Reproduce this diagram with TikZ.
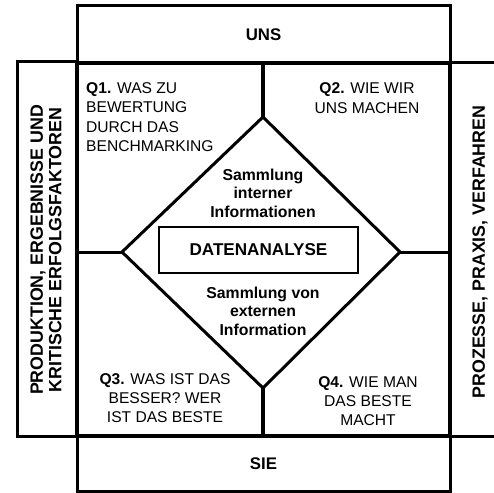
\documentclass[tikz,border=0pt]{standalone}
\usepackage{fontspec}
\setmainfont{Liberation Sans}
\usepackage{tikz}
\usetikzlibrary{positioning}

\tikzset{
  frame/.style={draw, line width=3pt, inner sep=0pt},
  heading/.style={font=\fontsize{16.8}{18}\selectfont\bfseries, align=center, inner sep=0pt},
  side/.style={font=\fontsize{17.8}{18.5}\selectfont\bfseries, align=center, inner sep=0pt, rotate=90},
  question/.style={font=\fontsize{15.6}{19.3}\selectfont, inner sep=0pt},
  collect/.style={font=\fontsize{15.8}{18.6}\selectfont\bfseries, align=center, inner sep=0pt}
}

\begin{document}
\begin{tikzpicture}[x=1pt, y=-1pt, line join=miter]
    \useasboundingbox (0,0) rectangle (494,492);
    % outer boxes
    \node [frame, minimum width=373pt, minimum height=57pt] (uns) at (263.5,34.5) {};
    \node [frame, minimum width=373pt, minimum height=55pt] (sie) at (263.5,463.5) {};
    \node [frame, minimum width=60pt, minimum height=374pt] (left) at (47,249) {};
    \draw [line width=3pt] (494,63) -- (450,63) -- (450,436) -- (494,436);
    \node [frame, line width=3.5pt, minimum width=373pt, minimum height=373pt] (sq) at (263.5,249.5) {};
    % diamond
    \coordinate (dtop) at (263,117);
    \coordinate (dleft) at (122,252);
    \coordinate (dright) at (400,252);
    \coordinate (dbot) at (263,388);
    \draw [line width=3pt] (dtop) -- (dright) -- (dbot) -- (dleft) -- cycle;
    \draw [line width=3.5pt] (sq.north -| dtop) -- (dtop);
    \draw [line width=3.5pt] (dbot) -- (sq.south -| dbot);
    \draw [line width=3pt] (sq.west |- dleft) -- (dleft);
    \draw [line width=3pt] (dright) -- (sq.east |- dright);
    \node [frame, line width=2pt, minimum width=199pt, minimum height=46pt, font=\fontsize{17.1}{18}\selectfont\bfseries] (da) at (258.5,250) {DATENANALYSE};
    % texts
    \node [heading] at (uns) {UNS};
    \node [heading] at (sie) {SIE};
    \node [side] at (46,250) {PRODUKTION, ERGEBNISSE UND\\KRITISCHE ERFOLGSFAKTOREN};
    \node [side] at (480,252) {PROZESSE, PRAXIS, VERFAHREN};
    \node [question, align=left, anchor=west] (q1) at (86,117) {\textbf{Q1.} WAS ZU\\BEWERTUNG\\DURCH DAS\\BENCHMARKING};
    \node [question, align=center] (q2) at (367,98) {\textbf{Q2.} WIE WIR\\UNS MACHEN};
    \node [question, align=center] (q3) at (165,398) {\textbf{Q3.} WAS IST DAS\\BESSER? WER\\IST DAS BESTE};
    \node [question, align=center] (q4) at (368,401) {\textbf{Q4.} WIE MAN\\DAS BESTE\\MACHT};
    \node [collect] (intern) at (263,193) {Sammlung\\interner\\Informationen};
    \node [collect] (extern) at (263,311) {Sammlung von\\externen\\Information};
\end{tikzpicture}
\end{document}
